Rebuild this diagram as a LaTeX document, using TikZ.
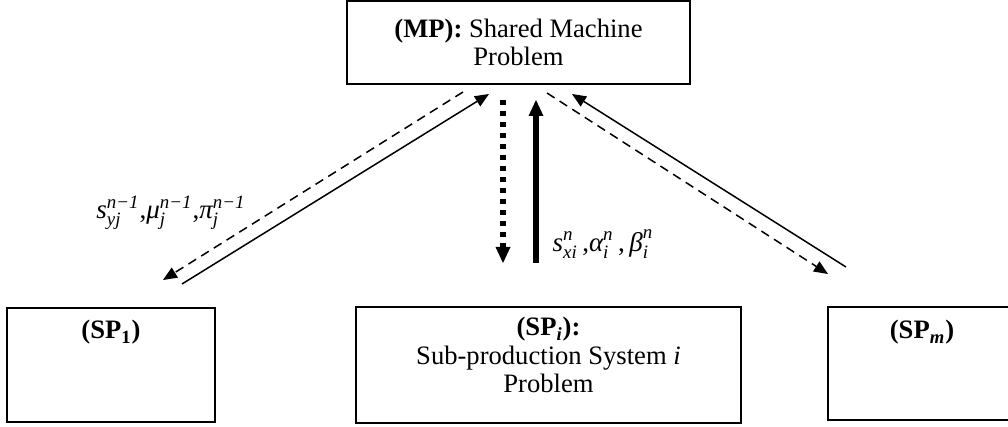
\documentclass[tikz,border=0pt]{standalone}
\usepackage{amsmath}
\usepackage{fontspec}
\setmainfont{Liberation Serif}
\usetikzlibrary{arrows.meta}

% italic text glyphs inside math, so the formulas use the serif text face
\newcommand\vi[1]{\text{\itshape #1}}

\tikzset{
  box/.style={draw, line width=1pt, inner sep=0pt},
  txt/.style={font=\fontsize{13.3}{14.2}\selectfont, align=center, inner sep=0pt},
  formula/.style={font=\fontsize{13.5}{15}\selectfont, inner sep=0pt},
  thinarrow/.style={line width=0.75pt, -{Triangle[length=7pt,width=6pt,line width=0pt]}},
  dashedarrow/.style={thinarrow, dash pattern=on 4.5pt off 3pt},
  heavyarrow/.style={line width=3pt, -{Triangle[length=8pt,width=7.5pt,line width=0pt]}},
  dottedheavy/.style={heavyarrow, dash pattern=on 2.5pt off 3pt}
}

\begin{document}
\begin{tikzpicture}[x=0.5pt,y=-0.5pt]
  \useasboundingbox (0,0) rectangle (1008,427);

  % master problem
  \node[box, txt, minimum width=171.5pt, minimum height=41.5pt] (mp) at (518.5,42.5)
    {\textbf{(MP):} Shared Machine\\Problem};

  % sub-problems
  \node[box, minimum width=104pt, minimum height=57pt] (sp1) at (111,365) {};
  \node[txt, anchor=north] (sp1t) at (111,320) {\textbf{(SP\textsubscript{1})}};

  \node[box, minimum width=192.5pt, minimum height=58pt] (spi) at (548.5,365) {};
  \node[txt, anchor=north] (spit) at (548.5,317)
    {\textbf{(SP\textsubscript{\itshape i}):}\\Sub-production System \textit{i}\\Problem};

  \node[box, minimum width=92pt, minimum height=56.5pt] (spm) at (920,363.5) {};
  \node[txt, anchor=north] (spmt) at (922,320) {\textbf{(SP\textsubscript{\itshape m})}};

  % arrow end points
  \coordinate (l1s) at (463,92);   \coordinate (l1e) at (163,280);
  \coordinate (l2s) at (182,284);  \coordinate (l2e) at (489,94);
  \coordinate (c1s) at (503,100);  \coordinate (c1e) at (503,263);
  \coordinate (c2s) at (536,263);  \coordinate (c2e) at (536,100);
  \coordinate (r1s) at (547,93);   \coordinate (r1e) at (828,274);
  \coordinate (r2s) at (846,267);  \coordinate (r2e) at (572,94);

  \draw[dashedarrow] (l1s) -- (l1e);
  \draw[thinarrow]   (l2s) -- (l2e);
  \draw[dottedheavy] (c1s) -- (c1e);
  \draw[heavyarrow]  (c2s) -- (c2e);
  \draw[dashedarrow] (r1s) -- (r1e);
  \draw[thinarrow]   (r2s) -- (r2e);

  % exchanged quantities
  \node[formula] (lf) at (171,213)
    {$\vi{s}^{\vi{n−1}}_{\vi{yj}}\text{,}\vi{μ}^{\vi{n−1}}_{\vi{j}}\text{,}\vi{π}^{\vi{n−1}}_{\vi{j}}$};
  \node[formula] (rf) at (603,244)
    {$\vi{s}^{\vi{n}}_{\vi{xi}}\text{\,,}\vi{α}^{\vi{n}}_{\vi{i}}\text{\,,\,}\vi{β}^{\vi{n}}_{\vi{i}}$};
\end{tikzpicture}
\end{document}
